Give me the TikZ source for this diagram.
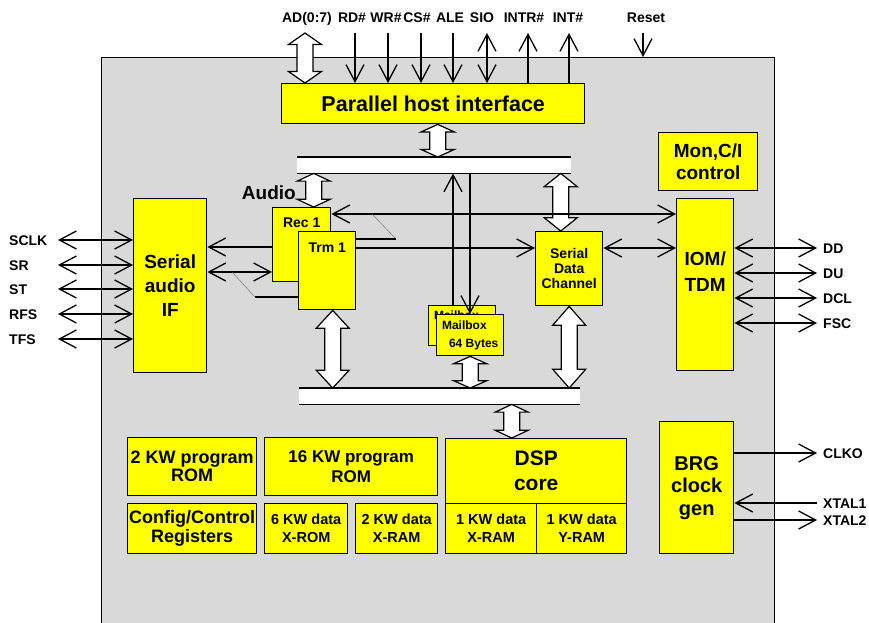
\documentclass[tikz,border=0pt]{standalone}
\usepackage{fontspec}
\setmainfont{Liberation Sans}
\usetikzlibrary{calc,arrows.meta}
\definecolor{chipgray}{RGB}{217,217,217}
\definecolor{blkyellow}{RGB}{255,255,0}
\newcommand\bfsz[2]{\fontsize{#1}{#2}\selectfont\bfseries}
% hollow up/down bus arrow, top point #1, bottom point #2
\newcommand\fatarrow[2]{%
  \draw[fat] let \p1=#1, \p2=#2, \n1={0.23*(\y1-\y2)} in
    ({\x1},{\y1}) -- ({\x1+16.5pt},{\y1-\n1}) -- ({\x1+8pt},{\y1-\n1}) --
    ({\x1+8pt},{\y2+\n1}) -- ({\x1+16.5pt},{\y2+\n1}) -- ({\x1},{\y2}) --
    ({\x1-16.5pt},{\y2+\n1}) -- ({\x1-8pt},{\y2+\n1}) --
    ({\x1-8pt},{\y1-\n1}) -- ({\x1-16.5pt},{\y1-\n1}) -- cycle;}

\begin{document}
\begin{tikzpicture}[x=1pt,y=-1pt,
                    >={Straight Barb[length=17pt,width=18pt]}
                    ]
                % define styles
\tikzset{blk/.style={rectangle,
                       draw=black,
                       fill=blkyellow,
                       line width=1.4pt,
                       inner sep=0,
                       anchor=north west,
                       align=center,
                       },
         bus/.style={rectangle,
                       fill=white,
                       inner sep=0,
                       anchor=north west,
                       },
         fat/.style={draw=black, fill=white, line width=1.2pt, line join=miter},
         sig/.style={line width=1.3pt},
         hair/.style={line width=0.4pt, draw=black!60},
         lbl/.style={inner sep=0, text height=10pt, text depth=0pt, font=\bfsz{14}{16}},
         txt/.style={inner sep=0, align=center}
}

\useasboundingbox (0,0) rectangle (869,622);

% chip
\node[rectangle, draw=black, fill=chipgray, line width=1.3pt, inner sep=0, anchor=north west,
      minimum width=673pt, minimum height=573pt] (chip) at (101,57) {};

% buses
\node[bus, minimum width=274pt, minimum height=16pt] (ubus) at (297,157) {};
\node[bus, minimum width=281pt, minimum height=16pt] (lbus) at (299,388) {};
\foreach \b in {ubus,lbus}
{
    \draw[line width=1.4pt] (\b.north west) -- (\b.north east);
    \draw[line width=1.4pt] (\b.south west) -- (\b.south east);
}

% blocks
\node[blk, minimum width=303pt, minimum height=40pt, font=\bfsz{21.5}{24}] (phi) at (281,83) {Parallel host interface};
\node[blk, minimum width=99pt, minimum height=58pt, font=\bfsz{19}{22}] (mon) at (658,132) {Mon,C/I\\control};
\node[blk, minimum width=57pt, minimum height=172pt] (iom) at (676,198) {};
\node[blk, minimum width=73pt, minimum height=174pt, font=\bfsz{19}{24}] (sif) at (133,198) {Serial\\audio\\IF};
\node[blk, minimum width=58pt, minimum height=74pt] (rec) at (272,207) {};
\node[blk, minimum width=57pt, minimum height=78pt] (trm) at (298,231) {};
\node[blk, minimum width=67pt, minimum height=74pt, font=\bfsz{14}{15}] (sdc) at (535,231) {Serial\\Data\\Channel};
\node[blk, minimum width=67pt, minimum height=40pt, font=\bfsz{12}{18}, align=left] (mbb) at (428,305) {Mailbox\\\hspace*{7pt}64 Bytes};
\node[blk, minimum width=67pt, minimum height=41pt, font=\bfsz{12}{18}, align=left] (mbf) at (436,314) {Mailbox\\\hspace*{7pt}64 Bytes};

\node[blk, minimum width=129pt, minimum height=58pt, font=\bfsz{18}{18}] (rom2) at (127,437) {2 KW program\\ROM};
\node[blk, minimum width=173pt, minimum height=58pt, font=\bfsz{17}{20}] (rom16) at (264,437) {16 KW program\\ROM};
\node[blk, minimum width=129pt, minimum height=50pt, font=\bfsz{18}{19}] (cfg) at (127,503) {Config/Control\\Registers};
\node[blk, minimum width=83pt, minimum height=50pt, font=\bfsz{14.5}{18}] (xrom) at (264,503) {6 KW data\\X-ROM};
\node[blk, minimum width=82pt, minimum height=50pt, font=\bfsz{14.5}{18}] (xram2) at (355,503) {2 KW data\\X-RAM};
\node[blk, minimum width=181pt, minimum height=65pt, font=\bfsz{21}{25}] (dsp) at (445,438) {DSP\\core};
\node[blk, minimum width=91pt, minimum height=50pt, font=\bfsz{14.5}{18}] (xram1) at (445,503) {1 KW data\\X-RAM};
\node[blk, minimum width=90pt, minimum height=50pt, font=\bfsz{14.5}{18}] (yram1) at (536,503) {1 KW data\\Y-RAM};
\node[blk, minimum width=74pt, minimum height=132pt, font=\bfsz{20}{22.5}] (brg) at (659,421) {BRG\\clock\\gen};

% texts placed off centre
\node[txt, font=\bfsz{14}{16}] (recT) at ([yshift=-16pt]rec.north) {Rec 1};
\node[txt, font=\bfsz{14}{16}] (trmT) at ([yshift=-17pt]trm.north) {Trm 1};
\node[txt, font=\bfsz{19}{26}] (iomT) at ([yshift=13pt]iom.center) {IOM/\\TDM};
\node[txt, font=\bfsz{19}{22}, anchor=east] (audio) at (296,193) {Audio};

% bus arrows
\coordinate (cAD) at (305,33);
\fatarrow{(cAD)}{(phi.north)}
\fatarrow{([xshift=4.5pt]phi.south)}{(ubus.north)}
\fatarrow{([xshift=12pt]rec.north |- ubus.south)}{(rec.north)}
\fatarrow{([xshift=-8.5pt]sdc.north |- ubus.south)}{(sdc.north)}
\fatarrow{([xshift=5.5pt]trm.south)}{(lbus.north)}
\fatarrow{(mbf.south)}{(lbus.north)}
\fatarrow{(sdc.south)}{(lbus.north)}
\fatarrow{([xshift=-24.5pt]dsp.north |- lbus.south)}{(dsp.north)}

% internal links
\draw[sig,->] (rec.west |- 0,247) -- (sif.east |- 0,247);
\draw[sig,<->] (sif.east |- 0,272) -- (rec.west |- 0,272);
\coordinate (ja) at (232,272);
\coordinate (jb) at (255,297);
\draw[hair] (ja) -- (jb);
\draw[sig] (jb) -- (trm.west |- jb);
\draw[sig,<->] (rec.east |- 0,214) -- (iom.west |- 0,214);
\coordinate (jc) at (372,214);
\coordinate (jd) at (396,239);
\draw[hair] (jc) -- (jd);
\draw[sig] (jd) -- (trm.east |- jd);
\draw[sig,->] (trm.east |- 0,248) -- (sdc.west |- 0,248);
\draw[sig,<->] (sdc.east |- 0,248) -- (iom.west |- 0,248);
\draw[sig,<-] (ubus.south -| 453,0) -- (mbb.north -| 453,0);
\draw[sig,->] (ubus.south -| 470,0) -- (mbf.north -| 470,0);

% host pins
\node[lbl] (lAD) at (307,17) {AD(0:7)};
\foreach \nm/\txt/\xl/\xa/\tip in {rd/RD\#/352/355/->, wr/WR\#/386/388/->, cs/CS\#/417/421/->,
                                   ale/ALE/450/453/->, sio/SIO/482/487/<->, intr/INTR\#/524/528/<-,
                                   int/INT\#/568/569/<-}
{
    \node[lbl] (l\nm) at (\xl,17) {\txt};
    \coordinate (c\nm) at (\xa,33);
    \draw[sig,\tip] (c\nm) -- (c\nm |- phi.north);
}
\node[lbl] (lreset) at (646,17) {Reset};
\coordinate (creset) at (643,33);
\draw[sig,->] (creset) -- (creset |- chip.north);

% serial audio pins
\foreach \nm/\y in {SCLK/240, SR/265, ST/289, RFS/314, TFS/339}
{
    \node[lbl, anchor=west] (l\nm) at (9,\y) {\nm};
    \coordinate (e\nm) at (58,\y);
    \draw[sig,<->] (e\nm) -- (sif.west |- e\nm);
}

% IOM pins
\foreach \nm/\y in {DD/248, DU/273, DCL/298, FSC/323}
{
    \node[lbl, anchor=west] (l\nm) at (823,\y) {\nm};
    \coordinate (e\nm) at (817,\y);
    \draw[sig,<->] (iom.east |- e\nm) -- (e\nm);
}

% clock pins
\foreach \nm/\y/\tip in {CLKO/453/->, XTAL1/503/<-, XTAL2/520/->}
{
    \node[lbl, anchor=west] (l\nm) at (823,\y) {\nm};
    \coordinate (e\nm) at (817,\y);
    \draw[sig,\tip] (brg.east |- e\nm) -- (e\nm);
}

\end{tikzpicture}
\end{document}
